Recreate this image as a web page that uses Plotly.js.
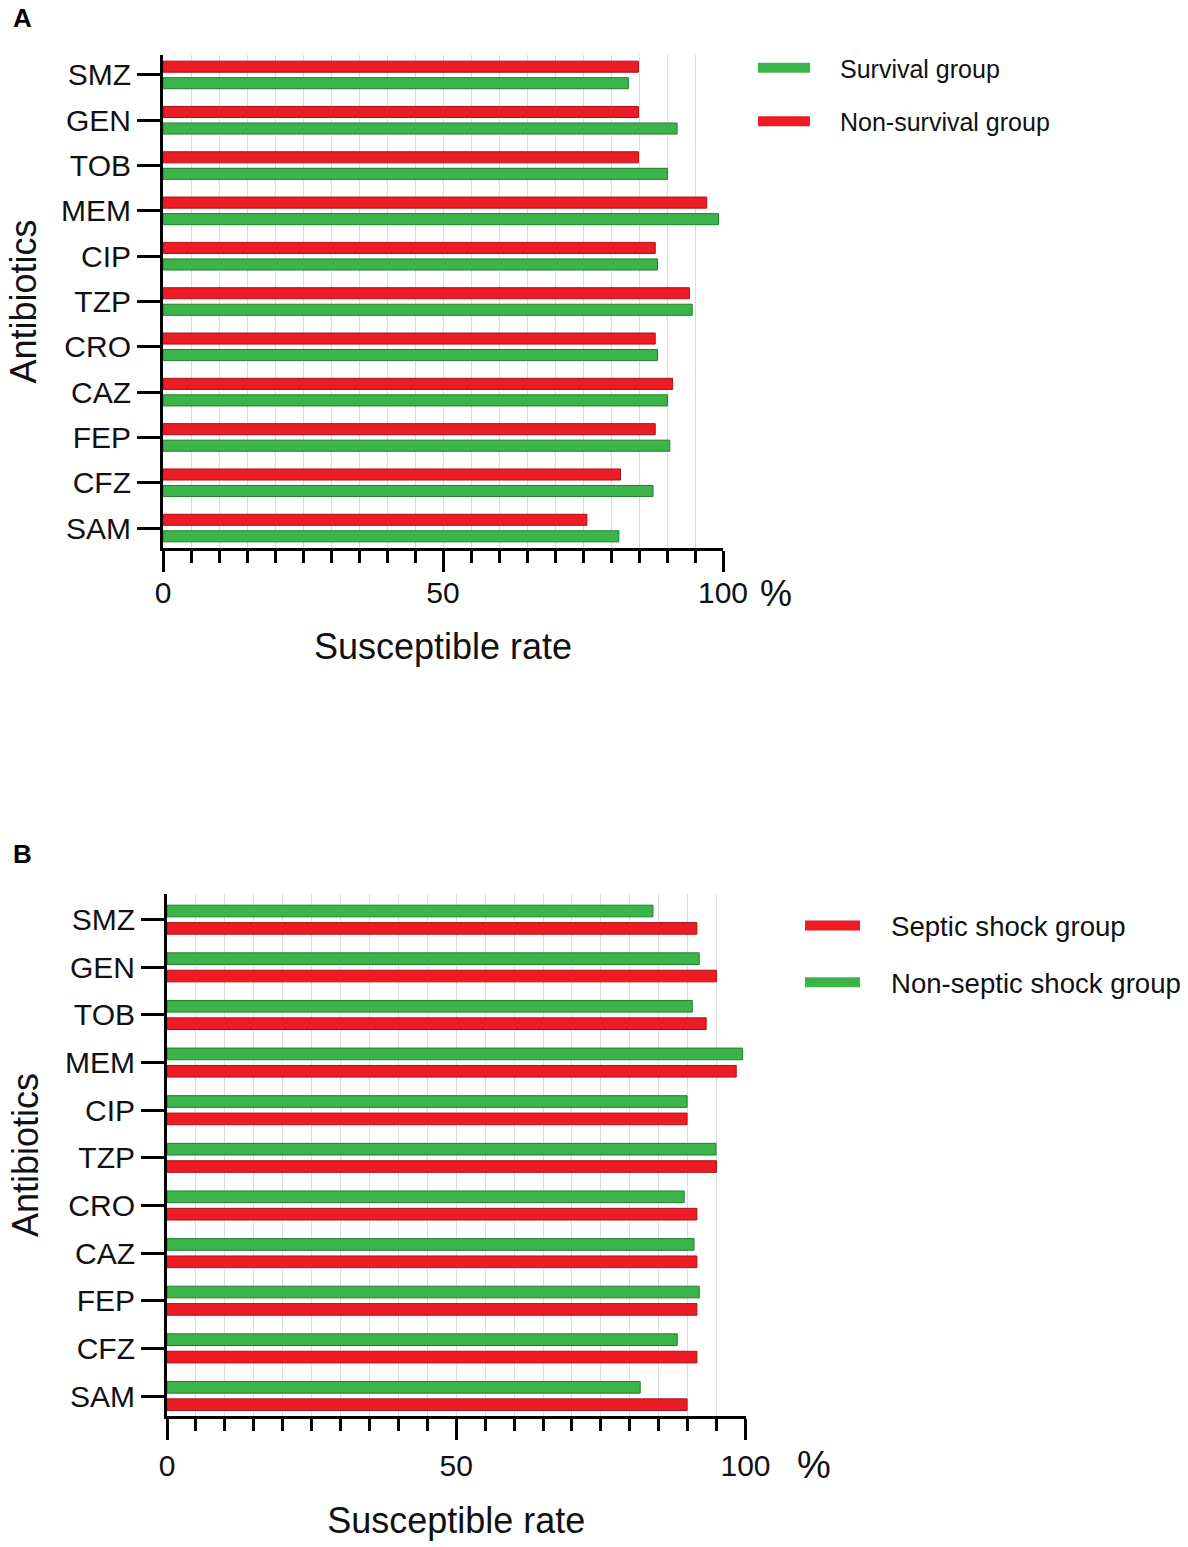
<!DOCTYPE html>
<html>
<head>
<meta charset="utf-8">
<script src="https://cdn.plot.ly/plotly-3.0.1.min.js"></script>
<style>
  html, body { margin: 0; padding: 0; background: #fff; }
  #chart { width: 1188px; height: 1547px; }
</style>
</head>
<body>
<div id="chart"></div>
<script>
// categories, top to bottom
const antibiotics = ['SMZ', 'GEN', 'TOB', 'MEM', 'CIP', 'TZP', 'CRO', 'CAZ', 'FEP', 'CFZ', 'SAM'];

// panel A: susceptible rate (%) by outcome
const survivalRate    = [83.1, 91.8, 90.1, 99.2, 88.3, 94.5, 88.3, 90.1, 90.5, 87.5, 81.4];
const nonSurvivalRate = [84.9, 84.9, 84.9, 97.1, 87.9, 94.0, 87.9, 91.0, 87.9, 81.7, 75.7];

// panel B: susceptible rate (%) by septic shock
const septicShockRate    = [91.6, 95.0, 93.2, 98.4, 89.9, 95.0, 91.6, 91.6, 91.6, 91.6, 89.9];
const nonSepticShockRate = [84.0, 92.0, 90.8, 99.5, 89.9, 94.9, 89.4, 91.1, 92.0, 88.2, 81.8];

const xTickVals = [0, 50, 100];
const xTickText = ['0', '50', '100'];
const gridVals = [5, 10, 15, 20, 25, 30, 35, 40, 45, 50, 55, 60, 65, 70, 75, 80, 85, 90, 95];

const RED = '#ed1c24', RED_EDGE = '#a8141a';
const GREEN = '#3bb54a', GREEN_EDGE = '#1f7f2c';
const FONT = '"Liberation Sans", Arial, Helvetica, sans-serif';
const W = 1188, H = 1547;

// pixel box -> paper domain
const domX = (l, r) => [l / W, r / W];
const domY = (t, b) => [1 - b / H, 1 - t / H];

function bar(name, vals, color, edge, xa, ya) {
    return {
        type: 'bar', orientation: 'h', name, x: vals, y: antibiotics,
        xaxis: xa, yaxis: ya, showlegend: false,
        marker: { color, line: { color: edge, width: 1 } },
        hovertemplate: '%{y}: %{x}%<extra>' + name + '</extra>',
    };
}
// legend-only entry; the dash leaves a gap between the wide swatch and the text
function key(name, color, legend, group, swatch) {
    const first = legend === 'legend';
    return {
        type: 'scatter', mode: 'lines', x: [null], y: [null], name, legend, legendgroup: group,
        xaxis: first ? 'x' : 'x2', yaxis: first ? 'y' : 'y2',
        line: { color, width: 10, dash: swatch + 'px,200px' }, hoverinfo: 'skip',
    };
}

const traces = [
    bar('Non-survival group', nonSurvivalRate, RED, RED_EDGE, 'x', 'y'),
    bar('Survival group', survivalRate, GREEN, GREEN_EDGE, 'x', 'y'),
    bar('Non-septic shock group', nonSepticShockRate, GREEN, GREEN_EDGE, 'x2', 'y2'),
    bar('Septic shock group', septicShockRate, RED, RED_EDGE, 'x2', 'y2'),
    key('Survival group', GREEN, 'legend', 'a1', 52),
    key('Non-survival group', RED, 'legend', 'a2', 52),
    key('Septic shock group', RED, 'legend2', 'b1', 55),
    key('Non-septic shock group', GREEN, 'legend2', 'b2', 55),
];

function xAxis(domain, anchor, labelShift, standoff) {
    return {
        domain, anchor, range: [0, 100], autorange: false,
        tickmode: 'array', tickvals: xTickVals, ticktext: xTickText,
        ticks: 'outside', ticklen: 21, tickwidth: 3, tickcolor: '#000',
        showline: true, linewidth: 3, linecolor: '#000',
        showgrid: false, zeroline: false, ticklabelstandoff: labelShift,
        tickfont: { family: FONT, size: 30, color: '#111' },
        minor: { tickmode: 'array', tickvals: gridVals, ticks: 'outside', ticklen: 12, tickwidth: 3,
                 tickcolor: '#000', showgrid: true, gridcolor: '#dcdcdc', gridwidth: 1 },
        title: { text: 'Susceptible rate', font: { family: FONT, size: 36, color: '#111' }, standoff },
    };
}
function yAxis(domain, anchor, range, standoff) {
    return {
        domain, anchor, type: 'category', categoryorder: 'array', categoryarray: antibiotics,
        range, autorange: false,
        ticks: 'outside', ticklen: 23, tickwidth: 3, tickcolor: '#000',
        showline: true, linewidth: 3, linecolor: '#000', showgrid: false, zeroline: false,
        tickfont: { family: FONT, size: 30, color: '#111' },
        title: { text: 'Antibiotics', font: { family: FONT, size: 36, color: '#111' }, standoff },
    };
}
function legendBox(x, yTop, size, itemwidth) {
    return {
        x: x / W, y: 1 - yTop / H, xanchor: 'left', yanchor: 'top',
        font: { family: FONT, size, color: '#111' }, bgcolor: 'rgba(0,0,0,0)',
        itemwidth, tracegroupgap: 18, traceorder: 'grouped',
    };
}

const layout = {
    width: W, height: H, margin: { l: 0, r: 0, t: 0, b: 0 },
    paper_bgcolor: '#fff', plot_bgcolor: '#fff',
    barmode: 'group', bargap: 0.27, bargroupgap: 0.33,
    xaxis: xAxis(domX(163, 723), 'y', -5, 26),
    yaxis: yAxis(domY(55, 548), 'x', [10.44, -0.44], 14),
    xaxis2: xAxis(domX(167, 745.5), 'y2', 0, 27),
    yaxis2: yAxis(domY(894, 1416), 'x2', [10.42, -0.54], 16),
    legend: legendBox(753, 45, 25, 77),
    legend2: legendBox(800, 901, 27.6, 81),
    annotations: [
        { text: '<b>A</b>', xref: 'paper', yref: 'paper', x: 11 / W, y: 1 - 1 / H, xanchor: 'left', yanchor: 'top',
          showarrow: false, font: { family: FONT, size: 26, color: '#000' } },
        { text: '<b>B</b>', xref: 'paper', yref: 'paper', x: 11 / W, y: 1 - 837 / H, xanchor: 'left', yanchor: 'top',
          showarrow: false, font: { family: FONT, size: 26, color: '#000' } },
        { text: '%', xref: 'x domain', yref: 'y domain', x: 1, y: 0, xanchor: 'left', yanchor: 'middle',
          xshift: 35, yshift: -45, showarrow: false, font: { family: FONT, size: 36, color: '#111' } },
        { text: '%', xref: 'x2 domain', yref: 'y2 domain', x: 1, y: 0, xanchor: 'left', yanchor: 'middle',
          xshift: 49, yshift: -49, showarrow: false, font: { family: FONT, size: 38, color: '#111' } },
    ],
};

Plotly.newPlot('chart', traces, layout, { displayModeBar: false, responsive: false });
</script>
</body>
</html>
